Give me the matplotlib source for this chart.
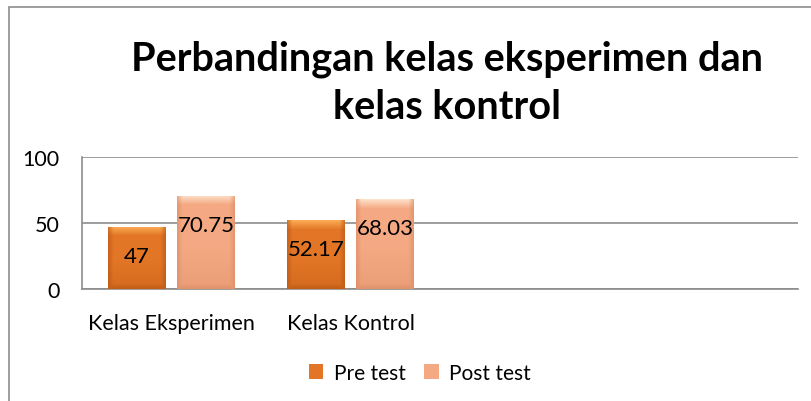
import matplotlib

matplotlib.use("Agg")
import matplotlib.pyplot as plt
import numpy as np
from matplotlib.colors import to_rgb
from matplotlib.patches import Rectangle

categories = ["Kelas Eksperimen", "Kelas Kontrol", "", ""]
pre_test = [47, 52.17]
post_test = [70.75, 68.03]
series_names = ["Pre test", "Post test"]
y_ticks = [0, 50, 100]

plt.rcParams["font.family"] = ["Lato", "DejaVu Sans"]

PRE_COLORS = ("#fbab55", "#e27626", "#b85512")
POST_COLORS = ("#fee0c8", "#f4a983", "#d98a63")


def bevel_image(colors, w_px, h_px, edge=5, top=9):
    """Image RGB imitant le biseau des barres Excel (haut clair, bords sombres)."""
    light, base, dark = (np.array(to_rgb(c)) for c in colors)
    ny, nx = max(int(h_px), 2), max(int(w_px), 2)
    yy = np.arange(ny)[:, None] * np.ones((1, nx))
    xx = np.ones((ny, 1)) * np.arange(nx)[None, :]
    # dégradé vertical : clair en haut, un peu plus sombre en bas
    t = np.clip(yy / top, 0, 1)[..., None]
    img = light * (1 - t) + base * t
    b = np.clip((yy - ny * 0.55) / (ny * 0.45), 0, 1)[..., None] * 0.35
    img = img * (1 - b) + dark * b
    # bords latéraux et bas plus sombres
    d = np.minimum(np.minimum(xx, nx - 1 - xx), ny - 1 - yy)
    s = (1 - np.clip(d / edge, 0, 1))[..., None] * 0.6
    img = img * (1 - s) + dark * s
    return np.clip(img, 0, 1)


fig = plt.figure(figsize=(8.12, 4.02), dpi=100)
ax = fig.add_axes([82 / 812, 1 - 290 / 402, (798 - 82) / 812, (290 - 158) / 402])

# cadre extérieur du graphique (coupé à droite et en bas)
fig.patches.append(Rectangle((9 / 812, -0.5), 2, 1.5 - 8 / 402, transform=fig.transFigure,
                             fill=False, edgecolor="#8c8c8c", linewidth=1.2))

x = np.arange(len(categories))
width = 0.322
offset = 0.192
ax.set_xlim(-0.5, len(categories) - 0.5)
ax.set_ylim(0, 100)

groups = []
for i, (vals, cols, name) in enumerate(zip([pre_test, post_test], [PRE_COLORS, POST_COLORS], series_names)):
    pos = x[: len(vals)] + (i - 0.5) * 2 * offset
    bars = ax.bar(pos, vals, width, color=cols[1], label=name, zorder=2)
    groups.append((bars, cols))

fig.canvas.draw()
for bars, cols in groups:
    for bar in bars:
        x0, y0 = bar.get_x(), bar.get_y()
        x1, y1 = x0 + bar.get_width(), y0 + bar.get_height()
        p0 = ax.transData.transform((x0, y0))
        p1 = ax.transData.transform((x1, y1))
        img = bevel_image(cols, p1[0] - p0[0], p1[1] - p0[1])
        im = ax.imshow(img, extent=(x0, x1, y0, y1), aspect="auto", zorder=3,
                       interpolation="bilinear")
        im.set_clip_path(bar)
        ax.annotate(f"{bar.get_height():g}", (bar.get_x() + bar.get_width() / 2, bar.get_height()),
                    xytext=(0, -21), textcoords="offset points", ha="center", va="center",
                    fontsize=16, color="black", zorder=4)

ax.set_xticks(x, categories, fontsize=15.5)
ax.set_yticks(y_ticks, [str(v) for v in y_ticks], fontsize=15.5)
ax.tick_params(axis="x", length=0, pad=17)
ax.tick_params(axis="y", length=0, pad=16)
ax.yaxis.grid(True, color="#8c8c8c", linewidth=1.2, zorder=0)
ax.set_axisbelow(True)
for side in ["top", "right"]:
    ax.spines[side].set_visible(False)
for side in ["left", "bottom"]:
    ax.spines[side].set_color("#8c8c8c")
    ax.spines[side].set_linewidth(1.2)

fig.text(447 / 812, 1 - 83 / 402, "Perbandingan kelas eksperimen dan\nkelas kontrol",
         ha="center", va="center", fontsize=28.5, fontweight="bold", linespacing=1.38)

ax.legend(loc="center", bbox_to_anchor=(420 / 812, 1 - 374 / 402), bbox_transform=fig.transFigure,
          ncol=2, frameon=False, fontsize=15, handlelength=0.7, handleheight=0.7,
          handletextpad=0.5, columnspacing=0.9)

fig.savefig("out.png", dpi=100)
